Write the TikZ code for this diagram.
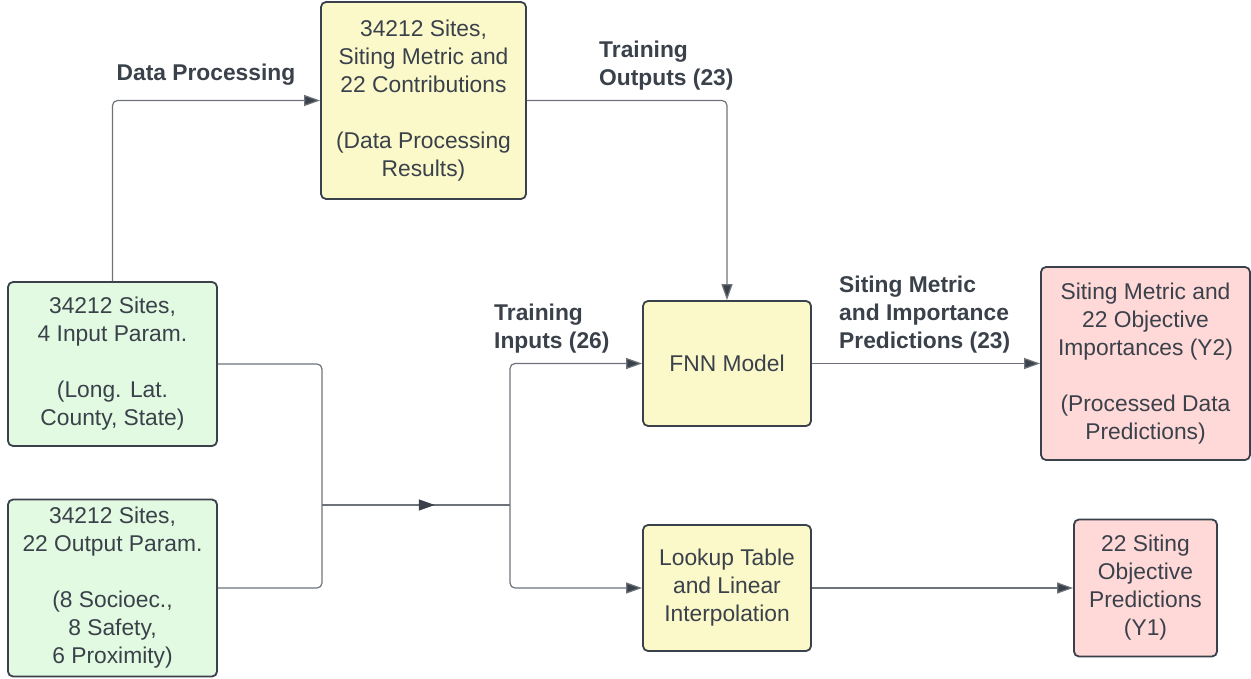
\documentclass[tikz,border=0pt]{standalone}
\usepackage{fontspec}
\setmainfont{Liberation Sans}
\usetikzlibrary{arrows.meta,decorations.markings}
\definecolor{ink}{HTML}{3A414A}
\definecolor{wire}{HTML}{6E737A}
\definecolor{gfill}{HTML}{E2FAE1}
\definecolor{yfill}{HTML}{FBF9CA}
\definecolor{rfill}{HTML}{FFD8D8}
\begin{document}
\begin{tikzpicture}[x=1pt,y=-1pt,
  box/.style={draw=ink, line width=1.8pt, rounded corners=5pt, align=center,
    text=ink, font=\fontsize{22.8}{28}\selectfont, inner sep=0pt},
  inbox/.style={box, fill=gfill},
  procbox/.style={box, fill=yfill},
  outbox/.style={box, fill=rfill},
  lbl/.style={text=ink, font=\fontsize{22.8}{28}\selectfont\bfseries, align=left, inner sep=0pt},
  tip/.style={-{Triangle[length=16pt,width=11pt,fill=ink]}},
  wireline/.style={draw=wire, line width=1.2pt, rounded corners=5pt},
  conn/.style={wireline, tip},
  midarrow/.style={wireline, postaction={decorate},
    decoration={markings, mark=at position 0.6 with {\arrow{Triangle[length=16pt,width=11pt,fill=ink,color=ink]}}}}
]
\useasboundingbox (0,0) rectangle (1251,679);

% inputs
\node[inbox, minimum width=209pt, minimum height=164pt] (in1) at (112.5,364)
  {34212 Sites,\\4 Input Param.\\[28pt](Long. Lat.\\County, State)};
\node[inbox, minimum width=209pt, minimum height=177pt] (in2) at (112.5,588)
  {34212 Sites,\\22 Output Param.\\[28pt](8 Socioec.,\\8 Safety,\\6 Proximity)};

% processing
\node[procbox, minimum width=205pt, minimum height=197pt] (dp) at (423.5,100.5)
  {34212 Sites,\\Siting Metric and\\22 Contributions\\[28pt](Data Processing\\Results)};
\node[procbox, minimum width=168pt, minimum height=125pt] (fnn) at (727,363.5) {FNN Model};
\node[procbox, minimum width=168pt, minimum height=126pt] (lut) at (727,588)
  {Lookup Table\\and Linear\\Interpolation};

% outputs
\node[outbox, minimum width=209pt, minimum height=193pt] (y2) at (1145.5,363.5)
  {Siting Metric and\\22 Objective\\Importances (Y2)\\[28pt](Processed Data\\Predictions)};
\node[outbox, minimum width=143pt, minimum height=137pt] (y1) at (1145.5,588)
  {22 Siting\\Objective\\Predictions\\(Y1)};

% junctions
\coordinate (join) at (322,505);
\coordinate (split) at (510,505);

% connectors
\draw[conn] (in1.north) |- (dp.west);
\draw[conn] (dp.east) -| (fnn.north);
\draw[wireline] (in1.east) -| (join);
\draw[wireline] (in2.east) -| (join);
\draw[midarrow] (join) -- (split);
\draw[conn] (split) |- (fnn.west);
\draw[conn] (split) |- (lut.west);
\draw[conn] (fnn.east) -- (y2.west);
\draw[conn] (lut.east) -- (y1.west);

% labels
\node[lbl, anchor=center] (lblproc) at (206,75) {Data Processing};
\node[lbl, anchor=west] (lblout) at (599,66) {Training\\Outputs (23)};
\node[lbl, anchor=west] (lblin) at (494,329) {Training\\Inputs (26)};
\node[lbl, anchor=west] (lblpred) at (839,315) {Siting Metric\\and Importance\\Predictions (23)};
\end{tikzpicture}
\end{document}
